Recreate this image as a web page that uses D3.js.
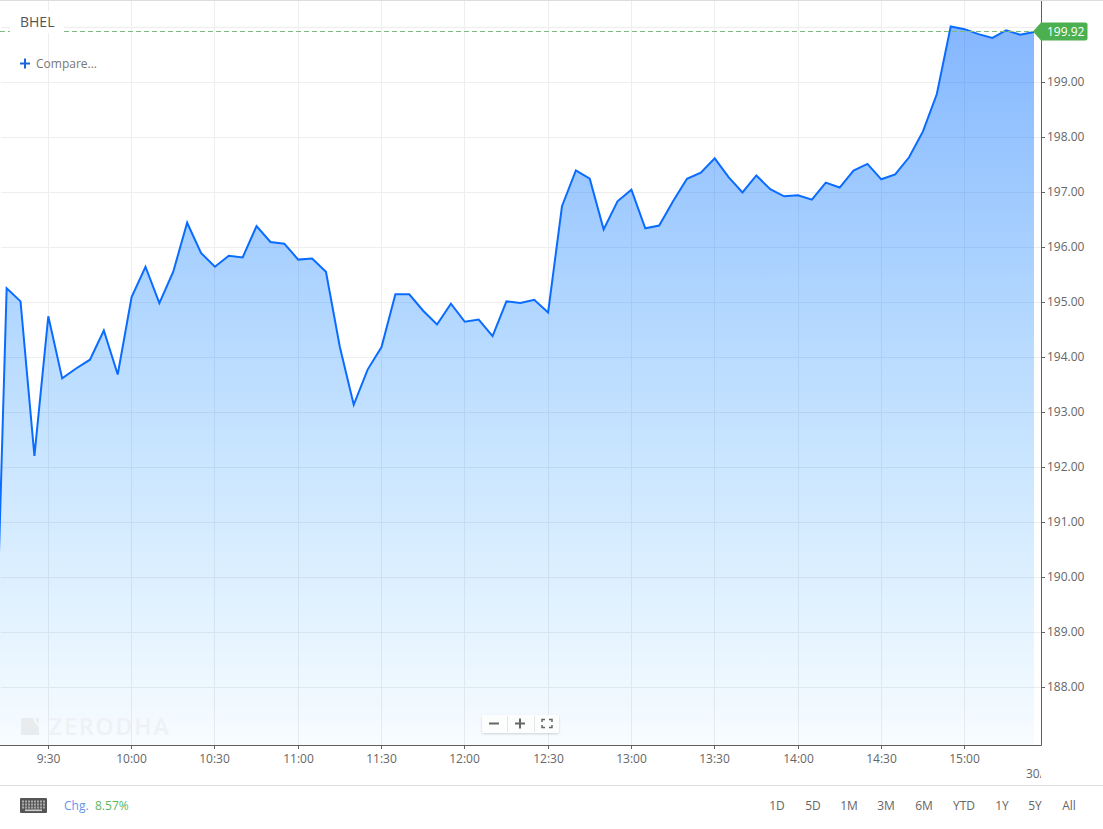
<!DOCTYPE html>
<html>
<head>
<meta charset="utf-8">
<script src="https://cdn.jsdelivr.net/npm/d3@7/dist/d3.min.js"></script>
<style>
html,body{margin:0;padding:0;background:#fff;overflow:hidden}
svg{display:block;font-family:"Open Sans",sans-serif}
</style>
</head>
<body>
<svg id="chart" width="1103" height="829"></svg>
<script>
const symbol = "BHEL";
const lastPrice = 199.92;
const changeText = "8.57%";
const ranges = ["1D","5D","1M","3M","6M","YTD","1Y","5Y","All"];
const rangeCentres = [777,813,849,886,924,964,1002,1035,1069];
const times = ["9:10","9:15","9:20","9:25","9:30","9:35","9:40","9:45","9:50","9:55",
"10:00","10:05","10:10","10:15","10:20","10:25","10:30","10:35","10:40","10:45","10:50","10:55",
"11:00","11:05","11:10","11:15","11:20","11:25","11:30","11:35","11:40","11:45","11:50","11:55",
"12:00","12:05","12:10","12:15","12:20","12:25","12:30","12:35","12:40","12:45","12:50","12:55",
"13:00","13:05","13:10","13:15","13:20","13:25","13:30","13:35","13:40","13:45","13:50","13:55",
"14:00","14:05","14:10","14:15","14:20","14:25","14:30","14:35","14:40","14:45","14:50","14:55",
"15:00","15:05","15:10","15:15","15:20","15:25"];
const prices = [186.55,195.26,195.02,192.21,194.75,193.62,193.80,193.96,194.49,193.69,
195.10,195.65,194.99,195.56,196.45,195.90,195.65,195.85,195.82,196.39,196.10,196.07,
195.78,195.80,195.56,194.19,193.14,193.78,194.19,195.15,195.15,194.85,194.60,194.98,
194.65,194.69,194.39,195.02,194.99,195.05,194.82,196.75,197.40,197.25,196.33,196.84,
197.05,196.35,196.40,196.84,197.25,197.36,197.62,197.28,197.00,197.31,197.06,196.93,
196.95,196.87,197.18,197.09,197.40,197.52,197.24,197.33,197.64,198.11,198.79,200.02,
199.97,199.88,199.81,199.95,199.87,199.92];
const xTickLabels = ["9:30","10:00","10:30","11:00","11:30","12:00","12:30","13:00","13:30","14:00","14:30","15:00"];
const yTickValues = [188,189,190,191,192,193,194,195,196,197,198,199];
const yGridValues = [188,189,190,191,192,193,194,195,196,197,198,199,200];

const PW = 1041, PH = 745;
const toMin = s => { const [h,m] = s.split(":").map(Number); return h*60+m; };
const data = times.map((t,i)=>({m:toMin(t),v:prices[i]}));

const x = d3.scaleLinear().domain([toMin("9:30"),toMin("15:00")]).range([48.3,964.6]);
const y = d3.scaleLinear().domain([187,200]).range([742.5,27.5]);
const crisp = v => Math.round(v - .5) + .5;

const svg = d3.select("#chart");
const defs = svg.append("defs");
defs.append("clipPath").attr("id","plot").append("rect").attr("x",0).attr("y",0).attr("width",PW).attr("height",PH);
defs.append("clipPath").attr("id","dateclip").append("rect").attr("x",0).attr("y",760).attr("width",PW).attr("height",22);
const grad = defs.append("linearGradient").attr("id","fill").attr("gradientUnits","userSpaceOnUse")
  .attr("x1",0).attr("x2",0).attr("y1",y(200.02)).attr("y2",PH);
grad.append("stop").attr("offset",0).attr("stop-color","rgb(0,104,255)").attr("stop-opacity",.48);
grad.append("stop").attr("offset",1).attr("stop-color","rgb(0,150,255)").attr("stop-opacity",.03);
const shadow = defs.append("filter").attr("id","sh").attr("x","-10%").attr("y","-30%").attr("width","120%").attr("height","170%");
shadow.append("feDropShadow").attr("dx",0).attr("dy",1).attr("stdDeviation",1).attr("flood-color","#000").attr("flood-opacity",.18);

// frame
svg.append("line").attr("x1",0).attr("x2",1103).attr("y1",.5).attr("y2",.5).attr("stroke","#ddd");
svg.append("line").attr("x1",0).attr("x2",1103).attr("y1",785.5).attr("y2",785.5).attr("stroke","#ddd");

// grid
const grid = svg.append("g").attr("stroke","#eeeeee").attr("stroke-width",1);
yGridValues.forEach(v=>grid.append("line").attr("x1",1).attr("x2",PW).attr("y1",y(v)).attr("y2",y(v)));
xTickLabels.forEach(t=>{const p=crisp(x(toMin(t))); grid.append("line").attr("x1",p).attr("x2",p).attr("y1",1).attr("y2",PH);});

// area and line
const plot = svg.append("g").attr("clip-path","url(#plot)");
plot.append("path").datum(data).attr("fill","url(#fill)")
  .attr("d",d3.area().x(d=>x(d.m)).y0(PH).y1(d=>y(d.v)));
plot.append("path").datum(data).attr("fill","none").attr("stroke","#0a6cff").attr("stroke-width",2).attr("stroke-linejoin","miter")
  .attr("d",d3.line().x(d=>x(d.m)).y(d=>y(d.v)));

// last-price dashed line
const py = crisp(y(lastPrice));
svg.append("line").attr("x1",0).attr("x2",x(toMin("15:25"))).attr("y1",py).attr("y2",py)
  .attr("stroke","#7dbb80").attr("stroke-width",1).attr("stroke-dasharray","5,3");

// axes
const xAxis = svg.append("g").attr("transform",`translate(0,${PH})`)
  .call(d3.axisBottom(x).offset(0).tickValues(xTickLabels.map(toMin))
    .tickFormat(m=>`${Math.floor(m/60)}:${String(m%60).padStart(2,"0")}`).tickSize(4).tickPadding(5));
xAxis.selectAll(".tick").attr("transform",d=>`translate(${crisp(x(d))},0)`);
const yAxis = svg.append("g").attr("transform",`translate(${PW},0)`)
  .call(d3.axisRight(y).offset(0).tickValues(yTickValues).tickFormat(d3.format(".2f")).tickSize(4).tickPadding(2));
[xAxis,yAxis].forEach(a=>{
  a.attr("font-family",null).attr("font-size",12);
  a.select(".domain").remove();
  a.selectAll(".tick line").attr("stroke","#666");
  a.selectAll(".tick text").attr("fill","#666");
});
svg.append("line").attr("x1",0).attr("x2",PW+.5).attr("y1",PH+.5).attr("y2",PH+.5).attr("stroke","#5f5f5f");
svg.append("line").attr("x1",PW+.5).attr("x2",PW+.5).attr("y1",1).attr("y2",PH+.5).attr("stroke","#5f5f5f");

// clipped date label
svg.append("text").attr("clip-path","url(#dateclip)").attr("x",1026).attr("y",778).attr("font-size",12).attr("fill","#666").text("30/12");

// price tag
svg.append("path").attr("fill","#4caf50")
  .attr("d",`M1033,${py} L1041,${py-9} H1085 Q1087.5,${py-9} 1087.5,${py-7} V${py+7} Q1087.5,${py+9} 1085,${py+9} H1041 Z`);
svg.append("text").attr("x",1047).attr("y",py+4.5).attr("font-size",12).attr("fill","#fff").text(d3.format(".2f")(lastPrice));

// header
svg.append("rect").attr("x",10).attr("y",11).attr("width",54).attr("height",22).attr("fill","#fff");
svg.append("text").attr("x",20).attr("y",27).attr("font-size",14).attr("fill","#555").text(symbol);
svg.append("path").attr("d","M20,63.5H30M25,58.5V68.5").attr("stroke","#1a66d6").attr("stroke-width",2).attr("fill","none");
svg.append("text").attr("x",36).attr("y",68).attr("font-size",12).attr("fill","#777").text("Compare...");

// watermark
svg.append("path").attr("fill","#e9ecef").attr("d","M21,718H33Q36,725 39,727V735H21Z");
svg.append("path").attr("fill","#e9ecef").attr("d","M35,718H39V724Q36,722 35,718Z");
svg.append("text").attr("x",49).attr("y",735).attr("font-size",23).attr("font-weight",600).attr("letter-spacing",1.9).attr("fill","#eff1f4").text("ZERODHA");

// zoom control
const z = svg.append("g");
z.append("rect").attr("x",482).attr("y",715).attr("width",77).attr("height",18).attr("rx",2).attr("fill","#fff").attr("fill-opacity",.9).attr("filter","url(#sh)");
z.append("path").attr("d","M507.5,716V732M534.5,716V732").attr("stroke","#e6e6e6");
z.append("path").attr("d","M489,723.5H499M515,723.5H525M520,718.5V728.5").attr("stroke","#666").attr("stroke-width",2).attr("fill","none");
z.append("path").attr("d","M542,722V719.5H545M549,719.5H552V722M552,725V727.5H549M545,727.5H542V725").attr("stroke","#666").attr("stroke-width",1.5).attr("fill","none");

// footer
const kb = svg.append("g");
kb.append("rect").attr("x",20).attr("y",798).attr("width",27).attr("height",15).attr("rx",1).attr("fill","#555");
[800.5,803.5,806.5].forEach(ky=>{
  d3.range(22,45,3).forEach(kx=>kb.append("rect").attr("x",kx).attr("y",ky).attr("width",2).attr("height",2).attr("fill","#aaa"));
});
kb.append("rect").attr("x",25).attr("y",809.5).attr("width",17).attr("height",1.6).attr("fill","#ccc");
svg.append("text").attr("x",64).attr("y",810).attr("font-size",12).attr("fill","#5f94ee").text("Chg.");
svg.append("text").attr("x",95).attr("y",810).attr("font-size",12).attr("fill","#5cb660").text(changeText);
svg.append("g").selectAll("text").data(ranges).join("text")
  .attr("x",(d,i)=>rangeCentres[i]).attr("y",810).attr("text-anchor","middle").attr("font-size",12).attr("fill","#666").text(d=>d);
</script>
</body>
</html>
